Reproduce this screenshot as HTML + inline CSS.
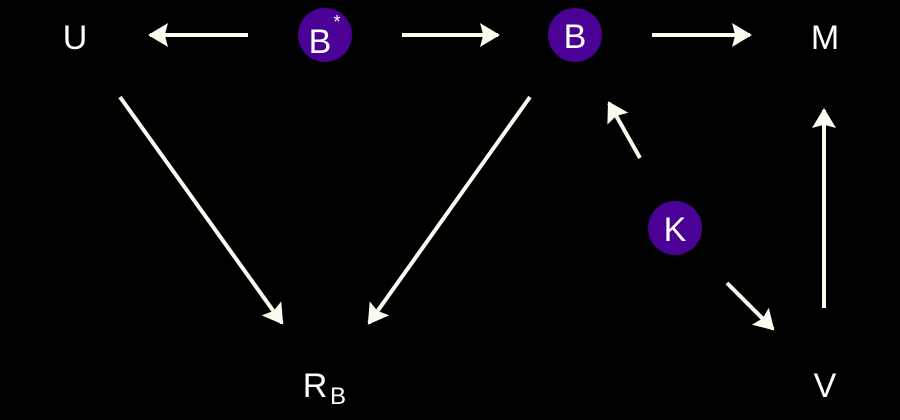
<!DOCTYPE html>
<html><head><style>body{margin:0;background:#000}</style></head><body>
<svg width="900" height="420" viewBox="0 0 900 420" xmlns="http://www.w3.org/2000/svg" style="display:block">
<defs><marker id="a" markerWidth="6" markerHeight="6" refX="4.5" refY="3" orient="auto" markerUnits="strokeWidth"><path d="M0,0 L5,3 L0,6 L0.8,3 Z" fill="#fcfbf0"/></marker></defs>
<rect width="900" height="420" fill="#000"/>
<g stroke="#fcfbf0" stroke-width="4" marker-end="url(#a)" fill="none">
<line x1="248" y1="35" x2="150" y2="35"/>
<line x1="402" y1="35" x2="498" y2="35"/>
<line x1="652" y1="35" x2="750" y2="35"/>
<line x1="120" y1="97" x2="282" y2="323"/>
<line x1="530" y1="97" x2="369" y2="323"/>
<line x1="640" y1="158" x2="609" y2="103"/>
<line x1="727" y1="283" x2="773" y2="329"/>
<line x1="824" y1="308" x2="824" y2="110"/>
</g>
<circle cx="325" cy="35" r="27" fill="#4b0096"/>
<circle cx="575" cy="35" r="27" fill="#4b0096"/>
<circle cx="675" cy="228" r="27" fill="#4b0096"/>
<g fill="#fff" font-family="Liberation Sans, sans-serif" font-size="34" text-anchor="middle">
<text x="75" y="49">U</text>
<text x="320" y="53">B</text>
<text x="337" y="28" font-size="18">*</text>
<text x="575" y="48">B</text>
<text x="825" y="49">M</text>
<text x="675" y="241">K</text>
<text x="825" y="397">V</text>
<text x="315" y="397">R</text>
<text x="338" y="404" font-size="24">B</text>
</g>
</svg>
</body></html>
